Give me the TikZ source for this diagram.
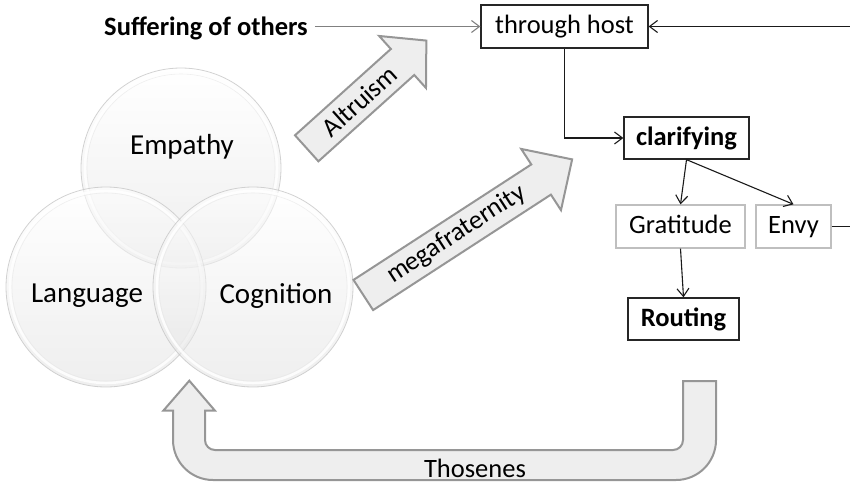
\documentclass[tikz,border=0pt]{standalone}
\usepackage{fontspec}
\setmainfont{Carlito}
\usetikzlibrary{arrows.meta}
\definecolor{boxline}{HTML}{262626}
\definecolor{lightbox}{HTML}{BFBFBF}
\definecolor{arrfill}{HTML}{EEEEEE}
\definecolor{arrline}{HTML}{969696}
\definecolor{conn}{HTML}{1A1A1A}
\definecolor{connlight}{HTML}{808080}
\begin{document}
\begin{tikzpicture}[x=1pt,y=-1pt,
  txt/.style={font=\fontsize{26.5}{30}\selectfont, text=black},
  bigtxt/.style={font=\fontsize{29}{33}\selectfont, text=black},
  boxbase/.style={txt, fill=white, inner sep=0pt, line width=1.3pt, text height=19pt, text depth=5pt},
  darkbox/.style={boxbase, draw=boxline},
  lightbx/.style={boxbase, draw=lightbox},
  bubble/.style={circle, minimum size=200pt, inner sep=0pt, top color=white, bottom color=black!12, fill opacity=0.55, draw=black!22, draw opacity=0.8, line width=0.8pt},
  ring/.style={white, line width=2.5pt, opacity=0.85},
  innerring/.style={black!10, line width=0.6pt, opacity=0.6},
  blockarrow/.style={fill=arrfill, draw=arrline, line width=2pt, line join=miter},
  conline/.style={draw=conn, line width=1.1pt},
  tip/.style={-{Straight Barb[length=8pt,width=12pt,line width=1.1pt]}}
]
\useasboundingbox (0,0) rectangle (850,482);

% circles
\node[bubble] (emp) at (181,168) {};
\draw[ring] (emp.center) circle[radius=96];
\draw[innerring] (emp.center) circle[radius=94];
\node[bubble] (lan) at (106,287) {};
\draw[ring] (lan.center) circle[radius=96];
\draw[innerring] (lan.center) circle[radius=94];
\node[bubble] (cog) at (253,287) {};
\draw[ring] (cog.center) circle[radius=96];
\draw[innerring] (cog.center) circle[radius=94];
\node[bigtxt] (empt) at (182,147) {Empathy};
\node[bigtxt] (lant) at (87,296) {Language};
\node[bigtxt] (cogt) at (276,296) {Cognition};

% Altruism arrow
\begin{scope}[shift={(306.7,148.3)}, rotate=42]
  \draw[blockarrow] (0,-17.5) -- (129,-17.5) -- (129,-35) -- (161,0) -- (129,35) -- (129,17.5) -- (0,17.5) -- cycle;
  \node[txt, rotate=42] (altr) at (71,0) {Altruism};
\end{scope}

% megafraternity arrow
\begin{scope}[shift={(363.3,295)}, rotate=33]
  \draw[blockarrow] (0,-18) -- (212,-18) -- (212,-36.5) -- (249,0) -- (212,36.5) -- (212,18) -- (0,18) -- cycle;
  \node[txt, rotate=33] (mega) at (111,0) {megafraternity};
\end{scope}

% Thosenes U arrow
\draw[blockarrow] (683,381) -- (716,381) -- (716,440) arc[start angle=0,end angle=90,radius=40]
  -- (213,480) arc[start angle=90,end angle=180,radius=40]
  -- (173,410.7) -- (163.3,410.7) -- (189.3,380.7) -- (215,410.7) -- (205,410.7)
  -- (205,440) arc[start angle=180,end angle=90,radius=10]
  -- (673,450) arc[start angle=90,end angle=0,radius=10] -- cycle;
\node[txt, anchor=base] (thos) at (475,477) {Thosenes};

% boxes
\node[txt, font=\fontsize{26.5}{30}\selectfont\bfseries, anchor=base, inner xsep=7pt] (suff) at (206,35) {Suffering of others};
\node[darkbox, minimum width=167pt, minimum height=43pt] (th) at (564.5,26.5) {through host};
\node[darkbox, minimum width=125pt, minimum height=42pt, font=\fontsize{26.5}{30}\selectfont\bfseries] (cl) at (686.5,138) {clarifying};
\node[lightbx, minimum width=129pt, minimum height=43pt] (gr) at (680.5,226.5) {Gratitude};
\node[lightbx, minimum width=75pt, minimum height=43pt] (en) at (793.5,226.5) {Envy};
\node[darkbox, minimum width=111pt, minimum height=42pt, font=\fontsize{26.5}{30}\selectfont\bfseries] (ro) at (683.5,319) {Routing};

\coordinate (rin) at (850,26.5);
\coordinate (rout) at (850,226.5);

% connectors
\draw[conline, tip, draw=connlight] (suff.east |- th.west) -- (th.west);
\draw[conline, tip] (rin) -- (th.east);
\draw[conline, tip] (th.south) |- (cl.west);
\draw[conline, tip] (cl.south) -- (gr.north);
\draw[conline, tip] (cl.south) -- (en.north);
\draw[conline, tip] (gr.south) -- (ro.north);
\draw[conline] (en.east) -- (rout);
\end{tikzpicture}
\end{document}
